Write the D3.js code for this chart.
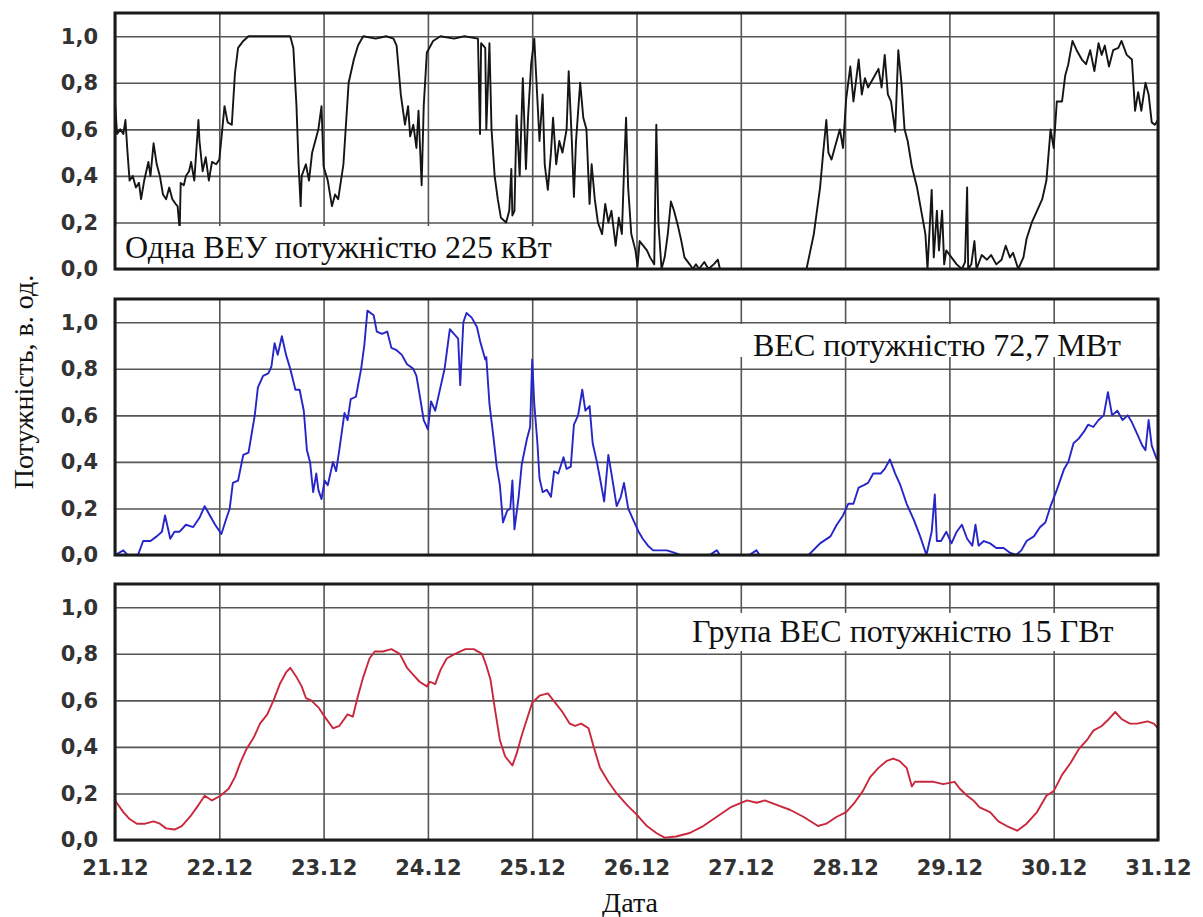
<!DOCTYPE html>
<html>
<head>
<meta charset="utf-8">
<script src="https://cdn.jsdelivr.net/npm/d3@7"></script>
<style>
  body { margin: 0; background: #fff; }
  svg { display: block; }
</style>
</head>
<body>
<div id="chart"></div>
<script>
// day offsets from 21.12, value in p.u.
const dayLabels = ["21.12", "22.12", "23.12", "24.12", "25.12", "26.12", "27.12", "28.12", "29.12", "30.12", "31.12"];
const yTicks = [0, 0.2, 0.4, 0.6, 0.8, 1.0];
const panelTitles = ["Одна ВЕУ потужністю 225 кВт", "ВЕС потужністю 72,7 МВт", "Група ВЕС потужністю 15 ГВт"];

const veu = [[0,0.72],[0.02,0.58],[0.05,0.6],[0.08,0.58],[0.1,0.64],[0.12,0.5],[0.14,0.38],[0.17,0.4],[0.2,0.35],[0.23,0.37],[0.25,0.3],[0.28,0.38],[0.32,0.46],[0.34,0.4],[0.37,0.54],[0.4,0.45],[0.43,0.4],[0.46,0.32],[0.49,0.3],[0.52,0.35],[0.55,0.3],[0.58,0.28],[0.6,0.27],[0.62,0.17],[0.63,0.37],[0.66,0.36],[0.68,0.4],[0.71,0.42],[0.73,0.46],[0.76,0.38],[0.8,0.64],[0.81,0.55],[0.84,0.42],[0.87,0.48],[0.9,0.38],[0.93,0.46],[0.97,0.45],[1.0,0.47],[1.02,0.56],[1.05,0.7],[1.08,0.63],[1.12,0.62],[1.15,0.84],[1.18,0.95],[1.23,0.98],[1.28,1.0],[1.4,1.0],[1.55,1.0],[1.68,1.0],[1.71,0.95],[1.74,0.7],[1.76,0.45],[1.78,0.27],[1.79,0.4],[1.83,0.45],[1.86,0.38],[1.89,0.5],[1.92,0.55],[1.95,0.6],[1.98,0.7],[2.0,0.44],[2.04,0.38],[2.08,0.27],[2.11,0.32],[2.14,0.3],[2.19,0.45],[2.24,0.8],[2.29,0.9],[2.33,0.96],[2.38,1.0],[2.5,0.99],[2.6,1.0],[2.67,0.99],[2.7,0.96],[2.74,0.75],[2.78,0.62],[2.81,0.7],[2.83,0.57],[2.86,0.62],[2.89,0.52],[2.91,0.68],[2.94,0.36],[2.96,0.7],[2.99,0.93],[3.05,0.98],[3.12,1.0],[3.25,0.99],[3.35,1.0],[3.48,0.99],[3.5,0.58],[3.51,0.97],[3.55,0.95],[3.56,0.6],[3.59,0.97],[3.61,0.6],[3.64,0.4],[3.67,0.3],[3.7,0.22],[3.75,0.2],[3.78,0.25],[3.8,0.43],[3.81,0.23],[3.83,0.25],[3.85,0.66],[3.88,0.4],[3.91,0.82],[3.94,0.43],[3.96,0.65],[3.99,0.88],[4.02,0.99],[4.03,0.9],[4.07,0.55],[4.1,0.75],[4.12,0.45],[4.15,0.34],[4.18,0.5],[4.2,0.65],[4.23,0.45],[4.26,0.55],[4.29,0.5],[4.33,0.6],[4.35,0.85],[4.38,0.55],[4.4,0.31],[4.42,0.55],[4.46,0.8],[4.49,0.65],[4.52,0.6],[4.55,0.28],[4.57,0.45],[4.6,0.3],[4.63,0.2],[4.67,0.15],[4.7,0.28],[4.73,0.2],[4.76,0.25],[4.8,0.1],[4.83,0.22],[4.86,0.15],[4.88,0.42],[4.9,0.65],[4.92,0.35],[4.95,0.15],[4.99,0.08],[5.01,0.01],[5.03,0.12],[5.1,0.08],[5.13,0.05],[5.17,0.02],[5.19,0.62],[5.21,0.2],[5.24,0.0],[5.27,0.05],[5.3,0.15],[5.33,0.29],[5.36,0.25],[5.4,0.18],[5.43,0.12],[5.46,0.05],[5.51,0.02],[5.54,0.0],[5.57,0.02],[5.6,0.0],[5.65,0.03],[5.69,0.0],[5.74,0.02],[5.78,0.04],[5.8,0.0],[6.2,0.0],[6.63,0.0],[6.7,0.15],[6.76,0.35],[6.79,0.5],[6.82,0.64],[6.84,0.5],[6.87,0.47],[6.9,0.52],[6.95,0.6],[6.98,0.52],[7.01,0.73],[7.05,0.87],[7.08,0.72],[7.13,0.9],[7.16,0.75],[7.19,0.82],[7.22,0.78],[7.27,0.82],[7.32,0.86],[7.35,0.78],[7.38,0.92],[7.41,0.75],[7.44,0.72],[7.48,0.59],[7.51,0.94],[7.54,0.8],[7.57,0.6],[7.6,0.55],[7.64,0.44],[7.69,0.35],[7.73,0.25],[7.77,0.15],[7.79,0.0],[7.83,0.34],[7.85,0.05],[7.88,0.25],[7.9,0.08],[7.93,0.25],[7.95,0.02],[7.97,0.08],[8.02,0.05],[8.07,0.02],[8.12,0.0],[8.15,0.03],[8.17,0.35],[8.18,0.0],[8.21,0.02],[8.24,0.12],[8.26,0.0],[8.31,0.06],[8.36,0.04],[8.4,0.06],[8.45,0.02],[8.5,0.04],[8.54,0.1],[8.58,0.05],[8.61,0.07],[8.66,0.0],[8.71,0.05],[8.74,0.13],[8.79,0.2],[8.84,0.25],[8.89,0.3],[8.93,0.38],[8.97,0.6],[9.0,0.52],[9.03,0.72],[9.08,0.72],[9.11,0.83],[9.14,0.88],[9.18,0.98],[9.22,0.94],[9.27,0.9],[9.31,0.88],[9.35,0.94],[9.39,0.85],[9.43,0.97],[9.46,0.92],[9.49,0.96],[9.53,0.87],[9.57,0.94],[9.62,0.95],[9.65,0.98],[9.7,0.92],[9.75,0.9],[9.78,0.68],[9.81,0.76],[9.84,0.68],[9.88,0.8],[9.91,0.75],[9.94,0.63],[9.97,0.62],[10,0.64]];

const ves = [[0,0.0],[0.08,0.02],[0.12,0.0],[0.22,0.0],[0.27,0.06],[0.34,0.06],[0.4,0.08],[0.45,0.1],[0.48,0.17],[0.53,0.07],[0.57,0.1],[0.62,0.1],[0.68,0.13],[0.75,0.12],[0.81,0.16],[0.86,0.21],[0.91,0.17],[0.96,0.13],[1.02,0.09],[1.07,0.16],[1.1,0.2],[1.13,0.31],[1.18,0.32],[1.23,0.43],[1.28,0.44],[1.31,0.52],[1.34,0.6],[1.37,0.72],[1.42,0.77],[1.47,0.78],[1.5,0.81],[1.53,0.91],[1.56,0.86],[1.6,0.94],[1.64,0.86],[1.68,0.8],[1.73,0.71],[1.77,0.71],[1.81,0.62],[1.84,0.45],[1.87,0.4],[1.9,0.27],[1.93,0.35],[1.95,0.28],[1.98,0.24],[2.01,0.32],[2.04,0.3],[2.09,0.4],[2.12,0.36],[2.15,0.45],[2.2,0.61],[2.23,0.58],[2.26,0.67],[2.31,0.68],[2.36,0.8],[2.39,0.9],[2.42,1.05],[2.48,1.03],[2.51,0.96],[2.56,0.95],[2.61,0.96],[2.65,0.89],[2.7,0.88],[2.75,0.86],[2.8,0.82],[2.86,0.8],[2.89,0.77],[2.92,0.69],[2.96,0.58],[3.0,0.54],[3.03,0.66],[3.07,0.62],[3.11,0.7],[3.16,0.8],[3.21,0.97],[3.25,0.95],[3.29,0.93],[3.31,0.73],[3.34,1.0],[3.37,1.04],[3.42,1.02],[3.47,0.98],[3.5,0.92],[3.55,0.84],[3.56,0.85],[3.59,0.65],[3.63,0.5],[3.66,0.38],[3.69,0.3],[3.72,0.14],[3.76,0.19],[3.79,0.2],[3.81,0.32],[3.83,0.11],[3.87,0.25],[3.9,0.39],[3.95,0.5],[3.98,0.55],[4.0,0.84],[4.02,0.65],[4.05,0.48],[4.07,0.33],[4.1,0.27],[4.14,0.28],[4.18,0.25],[4.21,0.36],[4.25,0.35],[4.3,0.42],[4.33,0.37],[4.37,0.38],[4.4,0.56],[4.44,0.6],[4.48,0.71],[4.51,0.62],[4.55,0.64],[4.58,0.48],[4.62,0.4],[4.65,0.33],[4.69,0.23],[4.73,0.43],[4.76,0.35],[4.81,0.21],[4.85,0.25],[4.88,0.31],[4.92,0.2],[4.97,0.15],[5.02,0.1],[5.06,0.07],[5.11,0.04],[5.16,0.02],[5.23,0.02],[5.29,0.02],[5.36,0.01],[5.42,0.0],[5.7,0.0],[5.77,0.02],[5.8,0.0],[6.08,0.0],[6.15,0.02],[6.18,0.0],[6.65,0.0],[6.76,0.05],[6.86,0.08],[6.92,0.13],[6.98,0.17],[7.03,0.22],[7.08,0.22],[7.13,0.29],[7.18,0.3],[7.22,0.31],[7.27,0.35],[7.34,0.35],[7.38,0.37],[7.43,0.41],[7.48,0.35],[7.53,0.3],[7.59,0.22],[7.66,0.15],[7.72,0.08],[7.78,0.0],[7.83,0.1],[7.86,0.26],[7.88,0.06],[7.92,0.06],[7.97,0.1],[8.02,0.05],[8.07,0.1],[8.12,0.13],[8.17,0.07],[8.22,0.04],[8.25,0.13],[8.28,0.04],[8.33,0.06],[8.39,0.05],[8.45,0.03],[8.52,0.03],[8.58,0.01],[8.64,0.0],[8.69,0.02],[8.74,0.06],[8.81,0.08],[8.87,0.12],[8.92,0.14],[8.97,0.21],[9.03,0.28],[9.1,0.37],[9.14,0.4],[9.19,0.48],[9.24,0.5],[9.29,0.53],[9.33,0.56],[9.38,0.55],[9.43,0.58],[9.48,0.6],[9.52,0.7],[9.56,0.6],[9.61,0.62],[9.66,0.58],[9.71,0.6],[9.75,0.57],[9.8,0.52],[9.85,0.47],[9.88,0.45],[9.91,0.58],[9.94,0.47],[9.99,0.41]];

const group = [[0,0.17],[0.08,0.12],[0.14,0.09],[0.21,0.07],[0.29,0.07],[0.37,0.08],[0.43,0.07],[0.49,0.05],[0.57,0.045],[0.64,0.06],[0.72,0.1],[0.8,0.15],[0.86,0.19],[0.93,0.17],[1.01,0.19],[1.09,0.22],[1.15,0.27],[1.2,0.33],[1.26,0.39],[1.33,0.44],[1.39,0.5],[1.46,0.54],[1.52,0.6],[1.58,0.67],[1.64,0.72],[1.68,0.74],[1.74,0.7],[1.79,0.66],[1.83,0.61],[1.88,0.6],[1.95,0.57],[2.01,0.53],[2.09,0.48],[2.15,0.49],[2.23,0.54],[2.28,0.53],[2.33,0.62],[2.38,0.7],[2.44,0.78],[2.49,0.81],[2.57,0.81],[2.65,0.82],[2.73,0.8],[2.8,0.74],[2.86,0.71],[2.92,0.68],[2.99,0.66],[3.02,0.68],[3.07,0.67],[3.12,0.73],[3.18,0.78],[3.26,0.8],[3.36,0.82],[3.44,0.82],[3.52,0.8],[3.56,0.75],[3.6,0.69],[3.64,0.57],[3.69,0.43],[3.74,0.36],[3.81,0.32],[3.85,0.37],[3.9,0.45],[3.95,0.52],[4.0,0.59],[4.07,0.62],[4.15,0.63],[4.22,0.59],[4.29,0.55],[4.36,0.5],[4.41,0.49],[4.47,0.5],[4.54,0.48],[4.59,0.4],[4.65,0.31],[4.73,0.25],[4.81,0.2],[4.91,0.15],[5.0,0.11],[5.1,0.06],[5.19,0.03],[5.27,0.01],[5.38,0.015],[5.51,0.03],[5.64,0.06],[5.77,0.1],[5.9,0.14],[6.06,0.17],[6.15,0.16],[6.23,0.17],[6.35,0.15],[6.47,0.13],[6.6,0.1],[6.74,0.06],[6.82,0.07],[6.92,0.1],[7.01,0.12],[7.09,0.16],[7.17,0.21],[7.24,0.27],[7.32,0.31],[7.4,0.34],[7.46,0.35],[7.52,0.34],[7.59,0.31],[7.64,0.23],[7.67,0.25],[7.75,0.25],[7.85,0.25],[7.94,0.24],[8.05,0.25],[8.1,0.22],[8.17,0.19],[8.23,0.17],[8.29,0.14],[8.39,0.12],[8.47,0.08],[8.55,0.06],[8.65,0.04],[8.74,0.07],[8.84,0.12],[8.93,0.19],[9.0,0.21],[9.08,0.28],[9.16,0.33],[9.24,0.39],[9.32,0.43],[9.38,0.47],[9.46,0.49],[9.53,0.52],[9.59,0.55],[9.65,0.52],[9.73,0.5],[9.8,0.5],[9.9,0.51],[9.96,0.5],[10,0.48]];

const w = 1203, h = 917;
const left = 115, right = 1158, panelH = 256;
const serif = "'Liberation Serif', 'Times New Roman', 'DejaVu Serif', serif";
const panels = [
  { data: veu, top: 13, color: "#151515", box: [116, 226, 449, 42], tx: 125, ty: 258 },
  { data: ves, top: 299, color: "#2626c8", box: [736, 324, 430, 33], tx: 753, ty: 356 },
  { data: group, top: 584, color: "#c9283c", box: [688, 613, 437, 38], tx: 692, ty: 642 }
];

const svg = d3.select("#chart").append("svg").attr("width", w).attr("height", h);
const x = d3.scaleLinear().domain([0, 10]).range([left, right]);
const fmtY = (d) => d3.format(".1f")(d).replace(".", ",");

panels.forEach((p, i) => {
  const y = d3.scaleLinear().domain([0, 1.1]).range([p.top + panelH, p.top]);
  const g = svg.append("g");

  g.append("clipPath").attr("id", "clip" + i)
    .append("rect").attr("x", left).attr("y", p.top).attr("width", right - left).attr("height", panelH);

  // horizontal grid + y labels
  const ya = g.append("g").attr("transform", `translate(${left},0)`)
    .call(d3.axisLeft(y).tickValues(yTicks).tickSize(-(right - left)).tickPadding(17).tickFormat(fmtY));
  ya.select(".domain").remove();
  ya.selectAll("line").attr("stroke", "#555").attr("stroke-width", 1.6);
  ya.selectAll("text").attr("font-family", "DejaVu Sans").attr("font-weight", "bold")
    .attr("font-size", 21).attr("fill", "#333");

  // vertical grid (+ date labels on the bottom panel)
  const xa = g.append("g").attr("transform", `translate(0,${p.top + panelH})`)
    .call(d3.axisBottom(x).tickValues(d3.range(0, 11)).tickSize(-panelH).tickPadding(20)
      .tickFormat((d, k) => (i === 2 ? dayLabels[k] : "")));
  xa.select(".domain").remove();
  xa.selectAll("line").attr("stroke", "#555").attr("stroke-width", 1.6);
  xa.selectAll("text").attr("font-family", "DejaVu Sans").attr("font-weight", "bold")
    .attr("font-size", 21).attr("fill", "#333");

  const line = d3.line().x((d) => x(d[0])).y((d) => y(d[1]));
  g.append("path").datum(p.data)
    .attr("clip-path", `url(#clip${i})`)
    .attr("d", line)
    .attr("fill", "none")
    .attr("stroke", p.color)
    .attr("stroke-width", 1.9)
    .attr("stroke-linejoin", "round");

  g.append("rect").attr("x", p.box[0]).attr("y", p.box[1]).attr("width", p.box[2]).attr("height", p.box[3]).attr("fill", "#fff");
  g.append("text").attr("x", p.tx).attr("y", p.ty)
    .attr("font-family", serif).attr("font-size", 32).attr("fill", "#111")
    .text(panelTitles[i]);

  g.append("rect").attr("x", left).attr("y", p.top).attr("width", right - left).attr("height", panelH)
    .attr("fill", "none").attr("stroke", "#1a1a1a").attr("stroke-width", 3);
});

svg.append("text")
  .attr("transform", "translate(33,382) rotate(-90)")
  .attr("text-anchor", "middle")
  .attr("font-family", serif).attr("font-size", 28).attr("fill", "#111")
  .text("Потужність, в. од.");

svg.append("text")
  .attr("x", 630).attr("y", 912)
  .attr("text-anchor", "middle")
  .attr("font-family", serif).attr("font-size", 28).attr("fill", "#111")
  .text("Дата");
</script>
</body>
</html>
